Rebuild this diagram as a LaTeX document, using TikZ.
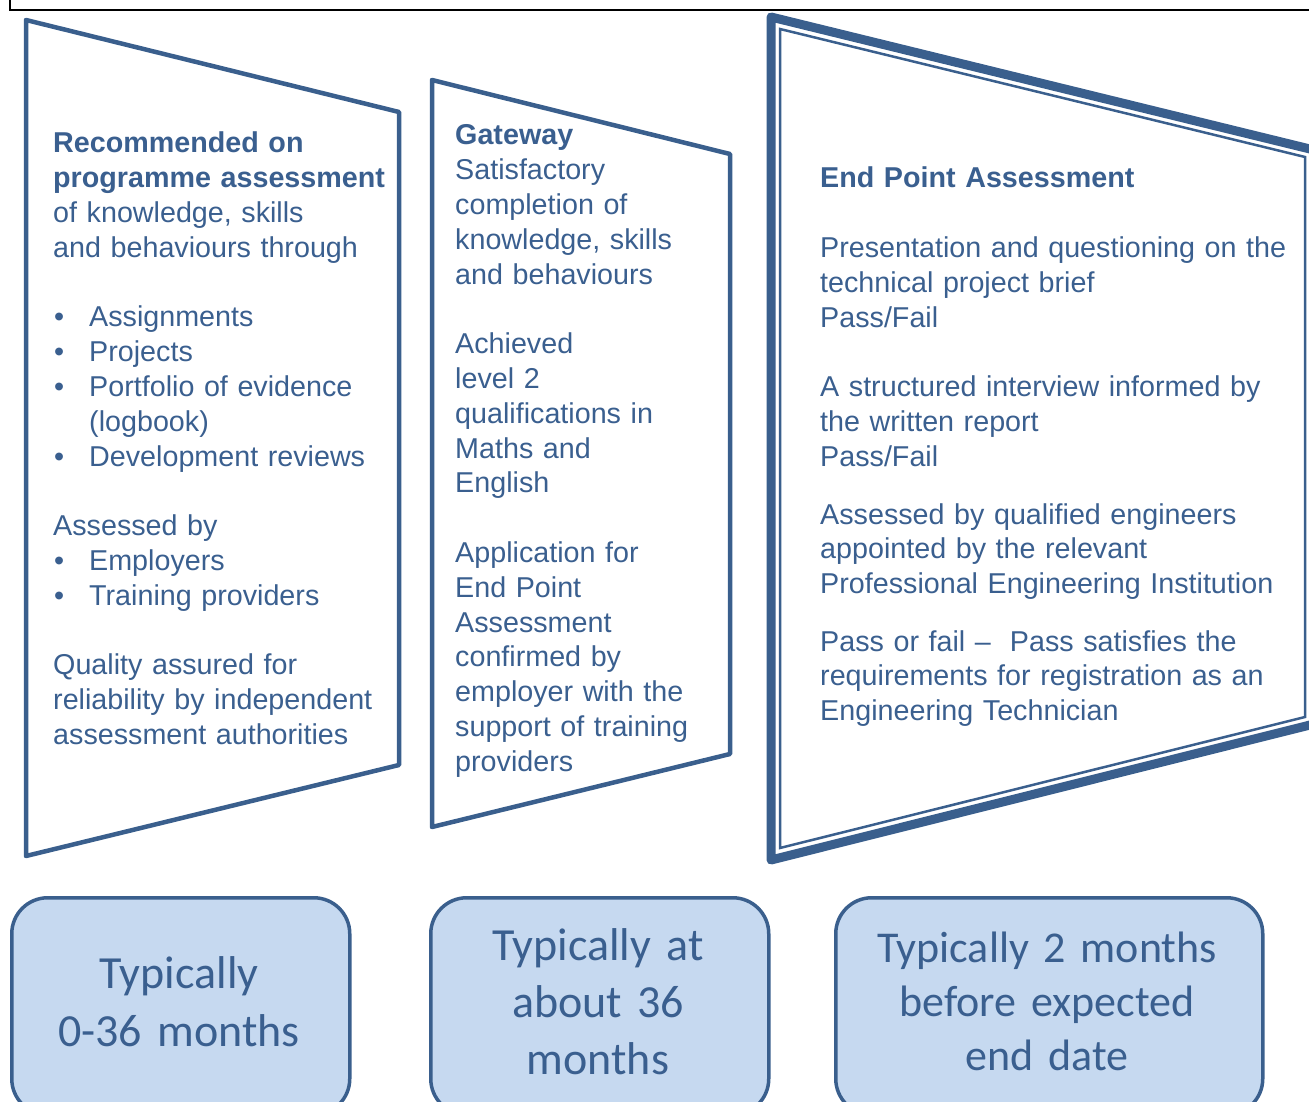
\documentclass[tikz,border=0pt]{standalone}
\usepackage{fontspec}
\setmainfont{Liberation Sans}
\newfontfamily\calibrifont{Carlito}
\definecolor{ink}{HTML}{3A5F8F}
\definecolor{edge}{HTML}{3A5F8D}
\definecolor{boxfill}{HTML}{C6D9F0}
\newcommand\pbul{\makebox[36pt][l]{\hspace{1pt}\textbullet}}
\begin{document}
\begin{tikzpicture}[x=1pt,y=-1pt,
  panel/.style={draw=edge, line width=4.5pt, line join=round},
  ptext/.style={anchor=base west, inner sep=0pt, text width=520pt, align=left, text=ink, font=\fontsize{28.7}{34.8}\selectfont},
  tbox/.style={draw=edge, line width=3.5pt, fill=boxfill, rounded corners=36pt, anchor=north west, inner sep=0pt},
  btext/.style={anchor=base, inner sep=0pt, text width=440pt, align=center, text=ink},
]
\useasboundingbox (0,0) rectangle (1309,1102);
\begin{scope}
\clip (0,0) rectangle (1309,1102);
% frame edge at top
\draw[line width=2.5pt, black] (10,-5) -- (10,10) -- (1320,10);
% panels
\draw[panel] (26,20) -- (399,112) -- (399,765) -- (26,856) -- cycle;
\draw[panel] (432,80) -- (730,154) -- (730,754) -- (432,827) -- cycle;
\draw[draw=edge, line width=9pt, line join=round] (771,17) -- (1314,150) -- (1314,724) -- (771,860) -- cycle;
\draw[draw=edge, line width=2.5pt, line join=miter] (780,29) -- (1305,157) -- (1305,717) -- (780,848) -- cycle;
% bottom boxes
\node[tbox, minimum width=338pt, minimum height=217pt] (b1) at (10,896) {};
\node[tbox, minimum width=338pt, minimum height=217pt] (b2) at (429,896) {};
\node[tbox, minimum width=427pt, minimum height=217pt] (b3) at (834,896) {};
\end{scope}
% panel texts
\node[ptext] (t1) at (53,153) {\textbf{Recommended on}\\
\textbf{programme assessment}\\
of knowledge, skills\\
and behaviours through\\[34.8pt]
\pbul Assignments\\
\pbul Projects\\
\pbul Portfolio of evidence\\
\hspace*{36pt}(logbook)\\
\pbul Development reviews\\[34.8pt]
Assessed by\\
\pbul Employers\\
\pbul Training providers\\[34.8pt]
Quality assured for\\
reliability by independent\\
assessment authorities};
\node[ptext] (t2) at (455,145) {\textbf{Gateway}\\
Satisfactory\\
completion of\\
knowledge, skills\\
and behaviours\\[34.8pt]
Achieved\\
level 2\\
qualifications in\\
Maths and\\
English\\[34.8pt]
Application for\\
End Point\\
Assessment\\
confirmed by\\
employer with the\\
support of training\\
providers};
\node[ptext] (t3) at (820,188) {\textbf{End Point Assessment}\\[34.8pt]
Presentation and questioning on the\\
technical project brief\\
Pass/Fail\\[34.8pt]
A structured interview informed by\\
the written report\\
Pass/Fail\\[23pt]
Assessed by qualified engineers\\
appointed by the relevant\\
Professional Engineering Institution\\[22.5pt]
Pass or fail --\ \ Pass satisfies the\\
requirements for registration as an\\
Engineering Technician};
% bottom texts
\node[btext, font=\calibrifont\fontsize{46}{58}\selectfont] (l1) at (179,988) {Typically\\0-36 months};
\node[btext, font=\calibrifont\fontsize{46}{57}\selectfont] (l2) at (598,960) {Typically at\\about 36\\months};
\node[btext, font=\calibrifont\fontsize{44}{54}\selectfont] (l3) at (1047,962) {Typically 2 months\\before expected\\end date};
\end{tikzpicture}
\end{document}
